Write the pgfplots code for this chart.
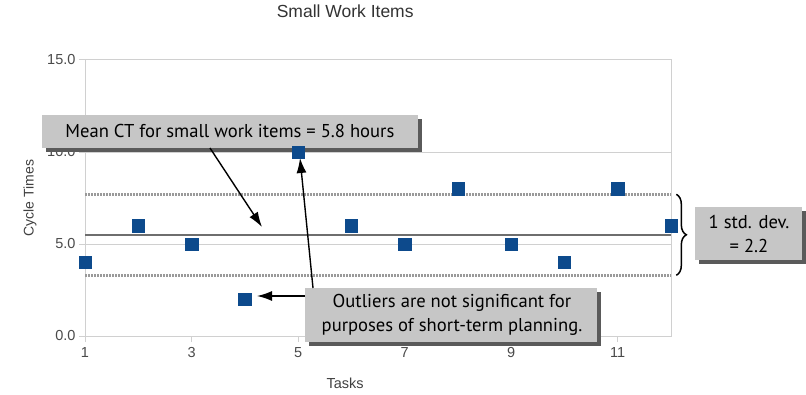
\documentclass[border=0pt]{standalone}
\usepackage{pgfplots}
\pgfplotsset{compat=1.18}
\usepackage{fontspec}
\setmainfont{Liberation Sans}
\newfontfamily\boxfont{PT Sans}
\usetikzlibrary{arrows.meta,decorations.pathreplacing}

\definecolor{gridc}{HTML}{D0D0D0}
\definecolor{tickc}{HTML}{4A4A4A}
\definecolor{markc}{HTML}{0D4A8C}
\definecolor{meanc}{HTML}{6E6E6E}
\definecolor{sdc}{HTML}{9A9A9A}
\definecolor{boxc}{HTML}{C6C6C6}
\definecolor{shadc}{HTML}{5A5A5A}

\tikzset{
  callout/.style={fill=boxc},
  callshadow/.style={fill=shadc},
  callarrow/.style={black, line width=1.4pt, -{Latex[length=15pt,width=10pt]}},
  sdline/.style={sdc, line width=2.6pt, dash pattern=on 1.6pt off 1.4pt},
}

\begin{document}
\begin{tikzpicture}[x=1pt,y=1pt]
\path[use as bounding box] (0,0) rectangle (806,394);
\begin{axis}[
  at={(85pt,58pt)}, anchor=south west,
  scale only axis, width=586pt, height=276pt,
  xmin=1, xmax=12, ymin=0, ymax=15,
  xtick={1,3,5,7,9,11}, ytick={0,5,10,15},
  yticklabel style={/pgf/number format/.cd, fixed, fixed zerofill, precision=1},
  /pgf/number format/assume math mode=true,
  ymajorgrids, grid style={gridc, line width=1pt},
  axis line style={gridc, line width=1pt},
  tick style={gridc, line width=1pt},
  tick align=outside, major tick length=6pt,
  xtick pos=bottom, ytick pos=left,
  ticklabel style={font=\fontsize{14.5}{16}\selectfont, text=tickc},
  xticklabel style={yshift=-2pt},
  title={Small Work Items},
  title style={at={(axis description cs:0.444,1)}, anchor=center, yshift=43pt,
    font=\fontsize{17.5}{20}\selectfont, text=black!80},
  xlabel={Tasks},
  xlabel style={at={(axis description cs:0.444,0)}, anchor=center, yshift=-47pt,
    font=\fontsize{14.5}{16}\selectfont, text=black!75},
  ylabel={Cycle Times},
  ylabel style={at={(axis description cs:-0.094,0.5)}, anchor=center,
    font=\fontsize{14}{16}\selectfont, text=black!75},
  clip=false,
]
% one std. dev. band around the mean
\addplot[sdline] coordinates {(1,7.7) (12,7.7)};
\addplot[sdline] coordinates {(1,3.3) (12,3.3)};
% mean cycle time
\addplot[meanc, line width=1.8pt] coordinates {(1,5.5) (12,5.5)};
% cycle time per task
\addplot[only marks, mark=square*, mark size=6.2pt, mark options={fill=markc, draw=markc}]
  coordinates {(1,4) (2,6) (3,5) (4,2) (5,10) (6,6) (7,5) (8,8) (9,5) (10,4) (11,8) (12,6)};

% callout: mean
\fill[callshadow] ([xshift=4pt,yshift=-4pt]axis cs:0.193,12.011) rectangle ([xshift=4pt,yshift=-4pt]axis cs:7.251,10.217);
\fill[callout] (axis cs:0.193,12.011) rectangle (axis cs:7.251,10.217);
\node[font=\boxfont\fontsize{18.6}{22}\selectfont] at (axis cs:3.72,11.14) {Mean CT for small work items = 5.8 hours};
\draw[callarrow] (axis cs:3.346,10.217) -- (axis cs:4.322,5.924);

% callout: outliers
\fill[callshadow] ([xshift=4pt,yshift=-4pt]axis cs:5.130,2.609) rectangle ([xshift=4pt,yshift=-4pt]axis cs:10.611,-0.326);
\fill[callout] (axis cs:5.130,2.609) rectangle (axis cs:10.611,-0.326);
\node[font=\boxfont\fontsize{18.6}{24}\selectfont, align=center] at (axis cs:7.889,1.141)
  {Outliers are not significant for\\purposes of short-term planning.};
\draw[callarrow] (axis cs:5.280,2.609) -- (axis cs:5.036,9.674);
\draw[callarrow] (axis cs:5.130,2.174) -- (axis cs:4.229,2.174);

% callout: standard deviation
\draw[black, line width=1.5pt, decorate, decoration={brace, amplitude=10pt}]
  (axis cs:12.10,7.7) -- (axis cs:12.10,3.3);
\fill[callshadow] ([xshift=4pt,yshift=-4pt]axis cs:12.451,7.011) rectangle ([xshift=4pt,yshift=-4pt]axis cs:14.459,4.130);
\fill[callout] (axis cs:12.451,7.011) rectangle (axis cs:14.459,4.130);
\node[font=\boxfont\fontsize{18.6}{24}\selectfont, align=center] at (axis cs:13.464,5.543)
  {1 std. dev.\\= 2.2};
\end{axis}
\end{tikzpicture}
\end{document}
